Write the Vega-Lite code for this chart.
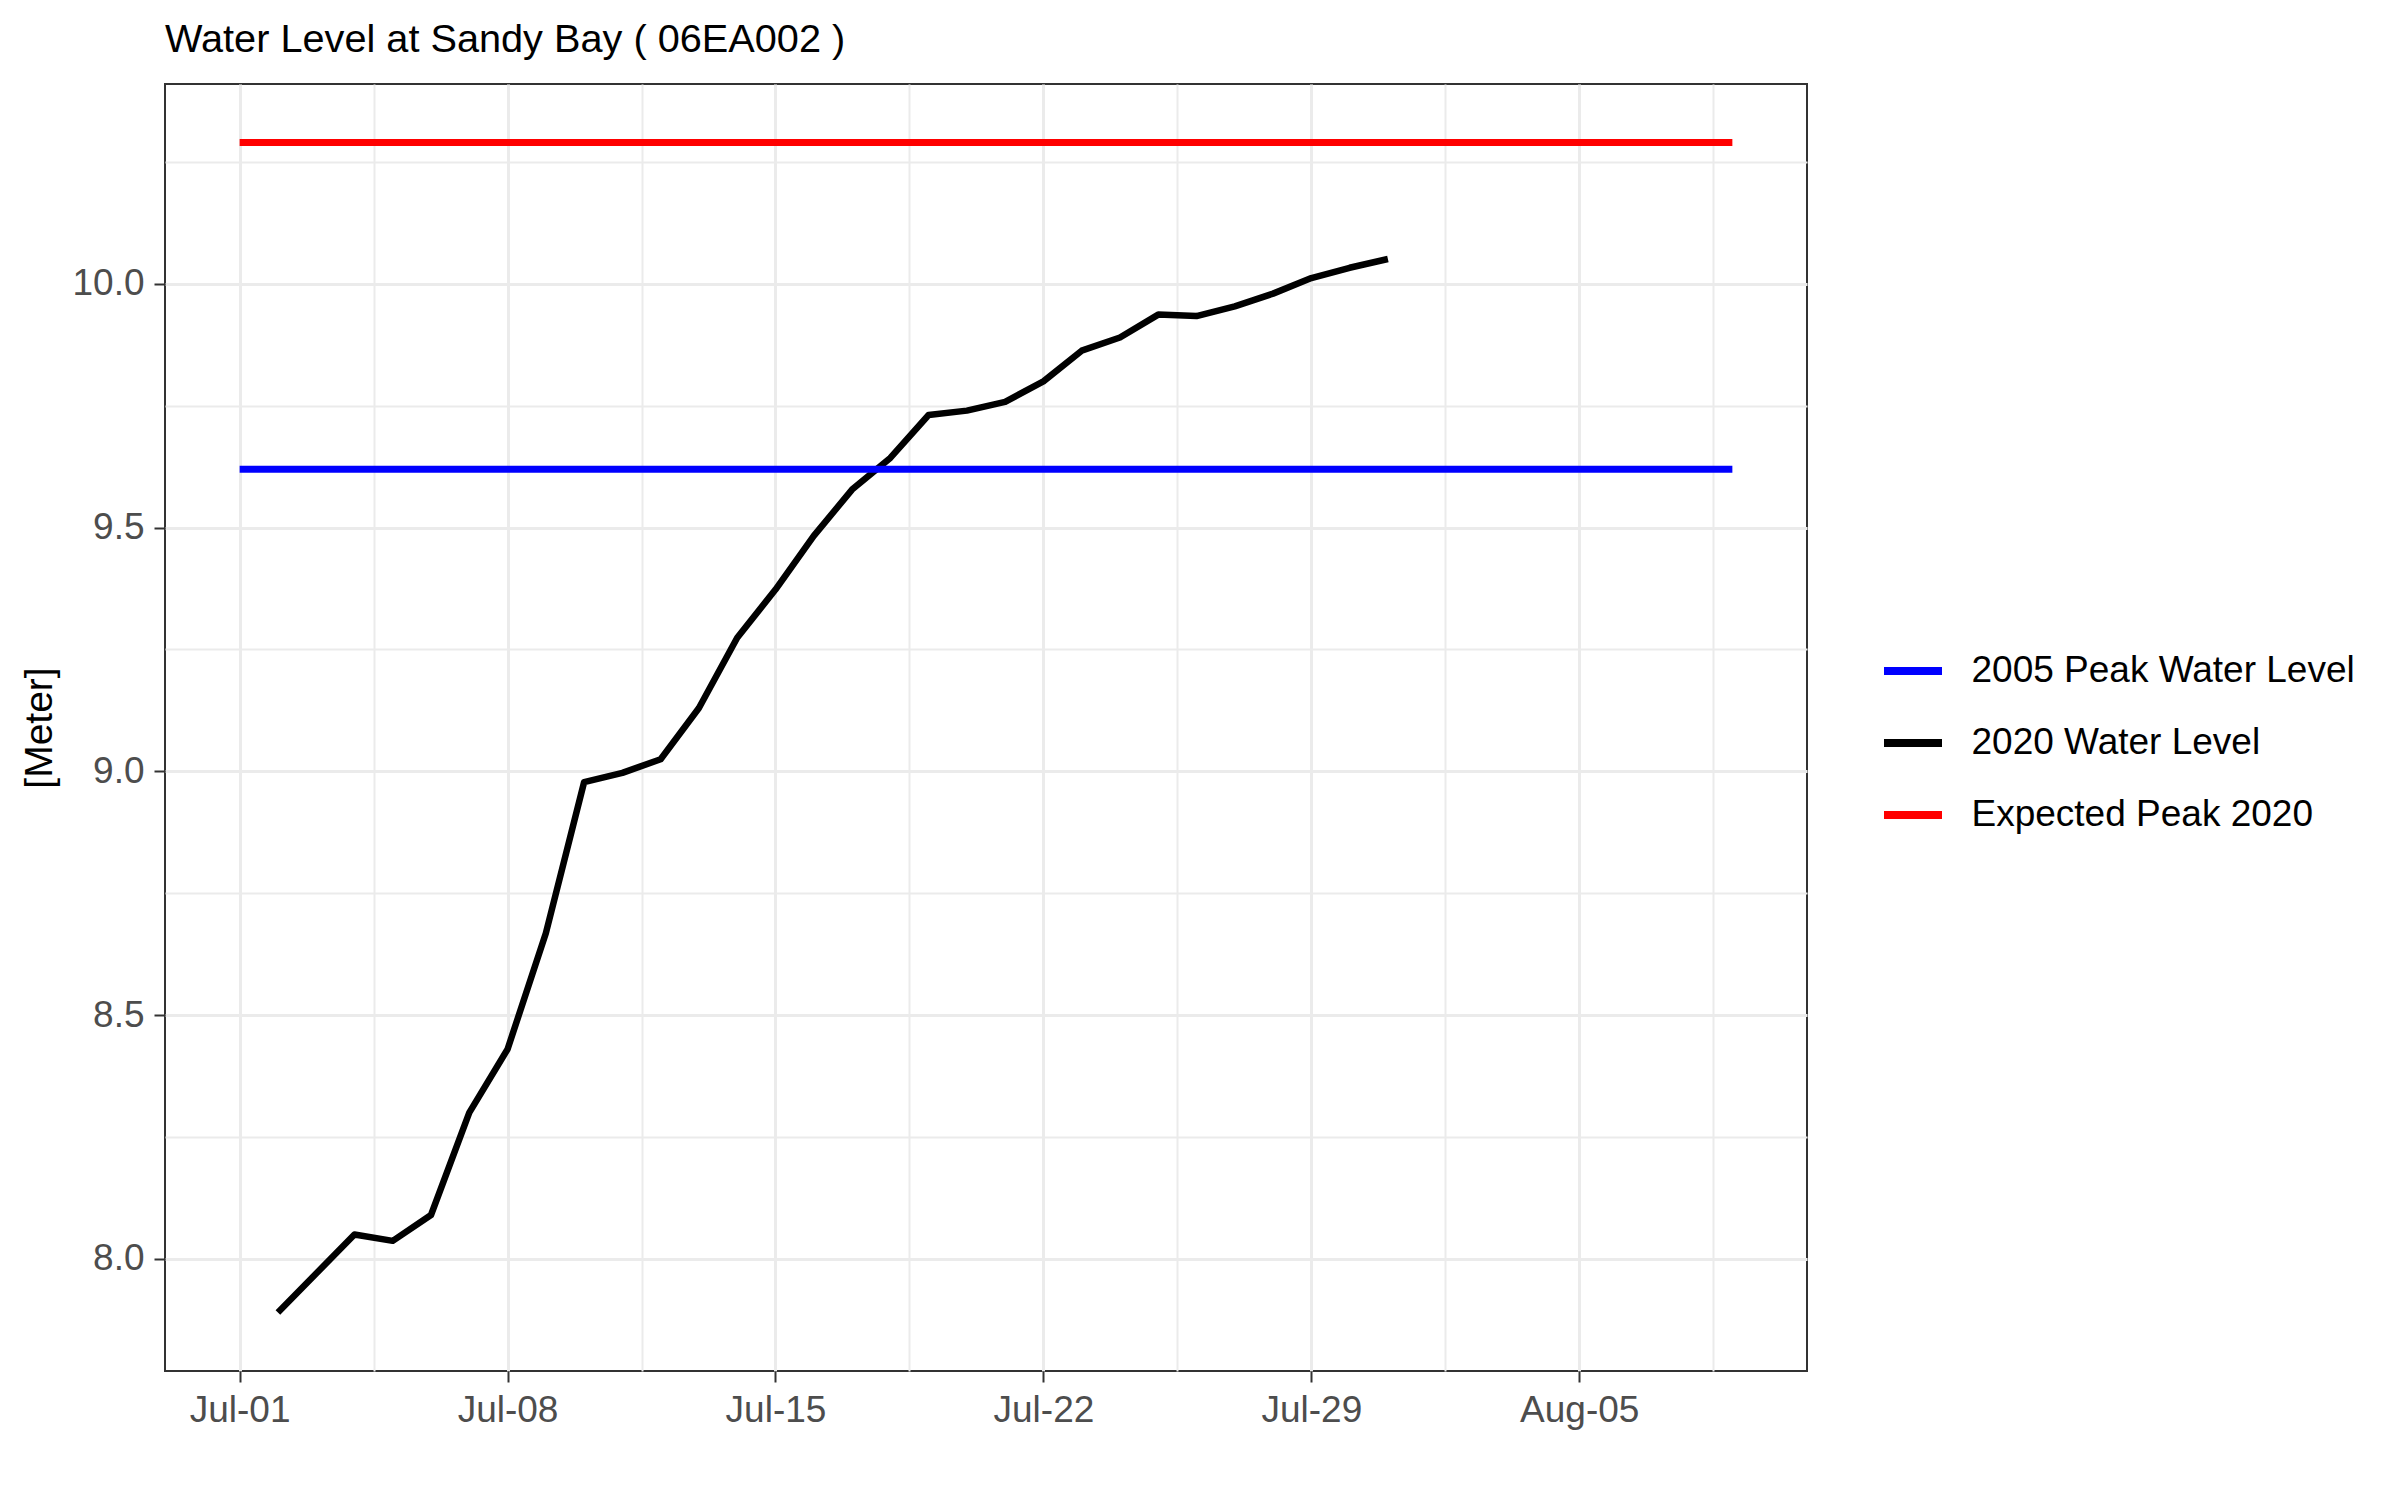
{
  "$schema": "https://vega.github.io/schema/vega-lite/v6.json",
  "autosize": {"type": "none"},
  "padding": {"left": 165, "top": 84, "right": 593, "bottom": 129},
  "width": 1642,
  "height": 1287,
  "background": "white",
  "title": {
    "text": "Water Level at Sandy Bay ( 06EA002 )",
    "anchor": "start",
    "frame": "group",
    "font": "Liberation Sans",
    "fontSize": 39.7,
    "fontWeight": "normal",
    "color": "#000000",
    "baseline": "alphabetic",
    "offset": -7.5
  },
  "config": {
    "view": {"stroke": "#333333", "strokeWidth": 2},
    "font": "Liberation Sans",
    "axis": {
      "domain": false,
      "gridColor": "#EBEBEB",
      "gridWidth": 3,
      "tickColor": "#333333",
      "tickWidth": 2,
      "tickSize": 11,
      "labelFont": "Liberation Sans",
      "labelFontSize": 37,
      "labelColor": "#4D4D4D",
      "titleFont": "Liberation Sans",
      "titleFontSize": 39,
      "titleFontWeight": "normal",
      "titleColor": "#000000"
    },
    "legend": {"padding": 0}
  },
  "datasets": {
    "level2020": [
      {"date": "2020-07-02T00:00:00", "level": 7.89, "series": "2020 Water Level"},
      {"date": "2020-07-03T00:00:00", "level": 7.97, "series": "2020 Water Level"},
      {"date": "2020-07-04T00:00:00", "level": 8.05, "series": "2020 Water Level"},
      {"date": "2020-07-05T00:00:00", "level": 8.037, "series": "2020 Water Level"},
      {"date": "2020-07-06T00:00:00", "level": 8.09, "series": "2020 Water Level"},
      {"date": "2020-07-07T00:00:00", "level": 8.30, "series": "2020 Water Level"},
      {"date": "2020-07-08T00:00:00", "level": 8.43, "series": "2020 Water Level"},
      {"date": "2020-07-09T00:00:00", "level": 8.668, "series": "2020 Water Level"},
      {"date": "2020-07-10T00:00:00", "level": 8.978, "series": "2020 Water Level"},
      {"date": "2020-07-11T00:00:00", "level": 8.997, "series": "2020 Water Level"},
      {"date": "2020-07-12T00:00:00", "level": 9.025, "series": "2020 Water Level"},
      {"date": "2020-07-13T00:00:00", "level": 9.13, "series": "2020 Water Level"},
      {"date": "2020-07-14T00:00:00", "level": 9.274, "series": "2020 Water Level"},
      {"date": "2020-07-15T00:00:00", "level": 9.373, "series": "2020 Water Level"},
      {"date": "2020-07-16T00:00:00", "level": 9.483, "series": "2020 Water Level"},
      {"date": "2020-07-17T00:00:00", "level": 9.578, "series": "2020 Water Level"},
      {"date": "2020-07-18T00:00:00", "level": 9.643, "series": "2020 Water Level"},
      {"date": "2020-07-19T00:00:00", "level": 9.731, "series": "2020 Water Level"},
      {"date": "2020-07-20T00:00:00", "level": 9.740, "series": "2020 Water Level"},
      {"date": "2020-07-21T00:00:00", "level": 9.758, "series": "2020 Water Level"},
      {"date": "2020-07-22T00:00:00", "level": 9.800, "series": "2020 Water Level"},
      {"date": "2020-07-23T00:00:00", "level": 9.863, "series": "2020 Water Level"},
      {"date": "2020-07-24T00:00:00", "level": 9.890, "series": "2020 Water Level"},
      {"date": "2020-07-25T00:00:00", "level": 9.937, "series": "2020 Water Level"},
      {"date": "2020-07-26T00:00:00", "level": 9.934, "series": "2020 Water Level"},
      {"date": "2020-07-27T00:00:00", "level": 9.954, "series": "2020 Water Level"},
      {"date": "2020-07-28T00:00:00", "level": 9.980, "series": "2020 Water Level"},
      {"date": "2020-07-29T00:00:00", "level": 10.012, "series": "2020 Water Level"},
      {"date": "2020-07-30T00:00:00", "level": 10.033, "series": "2020 Water Level"},
      {"date": "2020-07-31T00:00:00", "level": 10.051, "series": "2020 Water Level"}
    ],
    "refs": [
      {"date": "2020-07-01T00:00:00", "level": 9.62, "series": "2005 Peak Water Level"},
      {"date": "2020-08-09T00:00:00", "level": 9.62, "series": "2005 Peak Water Level"},
      {"date": "2020-07-01T00:00:00", "level": 10.29, "series": "Expected Peak 2020"},
      {"date": "2020-08-09T00:00:00", "level": 10.29, "series": "Expected Peak 2020"}
    ]
  },
  "layer": [
    {
      "data": {"name": "level2020"},
      "mark": {"type": "line", "strokeWidth": 6.5, "strokeJoin": "round"},
      "encoding": {
        "x": {
          "field": "date", "type": "temporal",
          "scale": {"domain": [{"year": 2020, "month": "jun", "date": 29, "hours": 1, "minutes": 12}, {"year": 2020, "month": "aug", "date": 10, "hours": 22, "minutes": 48}], "nice": false},
          "axis": {
            "orient": "bottom",
            "title": null,
            "grid": true,
            "gridWidth": 2,
            "labels": false,
            "ticks": false,
            "values": [
              {"year": 2020, "month": "jun", "date": 27, "hours": 12},
              {"year": 2020, "month": "jul", "date": 4, "hours": 12},
              {"year": 2020, "month": "jul", "date": 11, "hours": 12},
              {"year": 2020, "month": "jul", "date": 18, "hours": 12},
              {"year": 2020, "month": "jul", "date": 25, "hours": 12},
              {"year": 2020, "month": "aug", "date": 1, "hours": 12},
              {"year": 2020, "month": "aug", "date": 8, "hours": 12}
            ]
          }
        },
        "y": {
          "field": "level", "type": "quantitative",
          "scale": {"domain": [7.77, 10.41], "nice": false, "zero": false},
          "axis": {
            "orient": "left",
            "title": null,
            "grid": true,
            "gridWidth": 2,
            "labels": false,
            "ticks": false,
            "values": [7.75, 8.25, 8.75, 9.25, 9.75, 10.25]
          }
        },
        "color": {
          "field": "series", "type": "nominal",
          "scale": {"domain": ["2005 Peak Water Level", "2020 Water Level", "Expected Peak 2020"], "range": ["#0000FF", "#000000", "#FF0000"]},
          "legend": {
            "title": null,
            "orient": "none",
            "legendX": 1715,
            "legendY": 554,
            "symbolType": "stroke",
            "symbolSize": 3364,
            "symbolStrokeWidth": 8,
            "labelFont": "Liberation Sans",
            "labelFontSize": 37,
            "labelColor": "#000000",
            "labelOffset": 25.5,
            "rowPadding": 21,
            "labelLimit": 800
          }
        }
      }
    },
    {
      "data": {"name": "refs"},
      "mark": {"type": "line", "strokeWidth": 7},
      "encoding": {
        "x": {
          "field": "date", "type": "temporal",
          "axis": {
            "orient": "bottom",
            "title": null,
            "grid": true,
            "format": "%b-%d",
            "labelPadding": 10,
            "values": [
              {"year": 2020, "month": "jul", "date": 1},
              {"year": 2020, "month": "jul", "date": 8},
              {"year": 2020, "month": "jul", "date": 15},
              {"year": 2020, "month": "jul", "date": 22},
              {"year": 2020, "month": "jul", "date": 29},
              {"year": 2020, "month": "aug", "date": 5}
            ]
          }
        },
        "y": {
          "field": "level", "type": "quantitative",
          "axis": {
            "orient": "left",
            "title": "[Meter]",
            "titlePadding": 12,
            "grid": true,
            "format": ".1f",
            "labelPadding": 10,
            "values": [8.0, 8.5, 9.0, 9.5, 10.0]
          }
        },
        "color": {"field": "series", "type": "nominal"}
      }
    }
  ],
  "resolve": {"axis": {"x": "independent", "y": "independent"}, "scale": {"x": "shared", "y": "shared"}}
}
